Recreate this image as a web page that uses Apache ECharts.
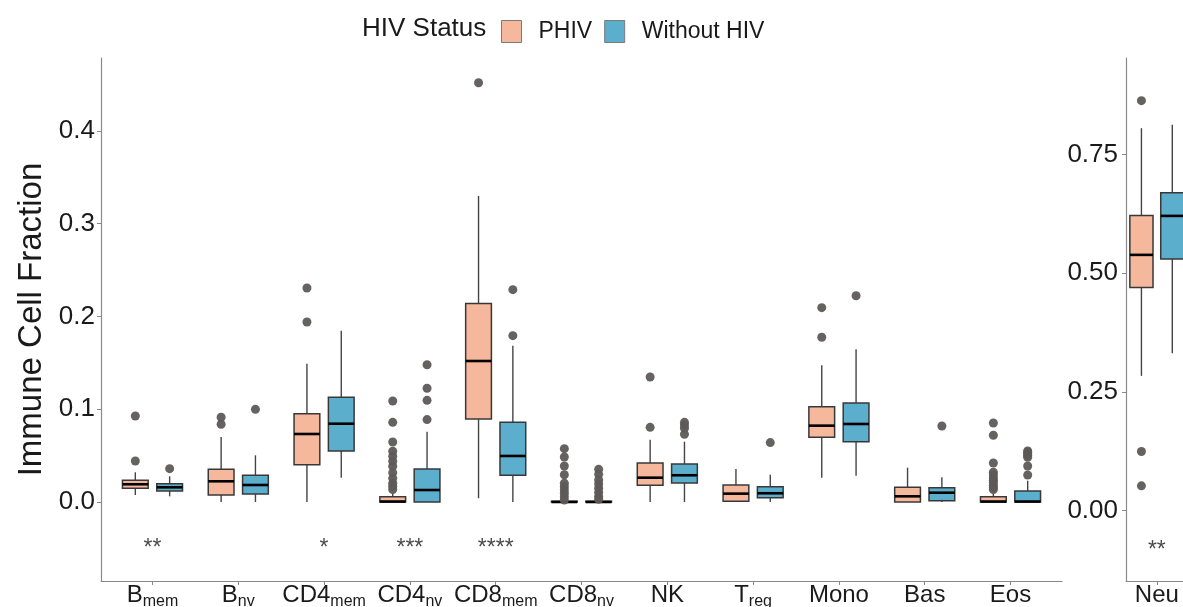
<!DOCTYPE html>
<html><head><meta charset="utf-8">
<script src="https://cdn.jsdelivr.net/npm/echarts@6/dist/echarts.min.js"></script>
<style>html,body{margin:0;padding:0;background:#fff}#c{width:1183px;height:607px}</style>
</head><body><div id="c"></div>
<script>
// ---------- data ----------
const categories = ['Bmem','Bnv','CD4mem','CD4nv','CD8mem','CD8nv','NK','Treg','Mono','Bas','Eos'];
const labelMain = ['B','B','CD4','CD4','CD8','CD8','NK','T','Mono','Bas','Eos'];
const labelSub  = ['mem','nv','mem','nv','mem','nv','','reg','','',''];
// [min, q1, median, q3, max]
const phivBox = [
  [0.0075,0.0148,0.0191,0.0234,0.032],
  [0.0,0.0075,0.0223,0.0352,0.070],
  [0.0,0.0402,0.0733,0.0952,0.149],
  [0.0,0.0,0.0005,0.0057,0.0094],
  [0.004,0.0895,0.152,0.2140,0.330],
  [0.0,0.0,0.0,0.0008,0.0015],
  [0.0,0.018,0.0262,0.042,0.0672],
  [0.0,0.0008,0.009,0.0183,0.0356],
  [0.0262,0.0698,0.0823,0.1028,0.1474],
  [0.0,0.0,0.0061,0.0158,0.037],
  [0.0,0.0,0.0005,0.0057,0.010]
];
const withoutBox = [
  [0.0061,0.0119,0.0158,0.0197,0.0277],
  [0.0,0.0086,0.0183,0.0288,0.0503],
  [0.0262,0.055,0.0844,0.1129,0.1847],
  [0.0,0.0,0.0129,0.0356,0.0758],
  [0.0,0.0288,0.0496,0.0859,0.1685],
  [0.0,0.0,0.0,0.0008,0.0015],
  [0.0,0.0205,0.0288,0.041,0.065],
  [0.0,0.0046,0.0094,0.0165,0.0294],
  [0.0284,0.065,0.0841,0.1067,0.1646],
  [0.0,0.0014,0.010,0.0154,0.0266],
  [0.0,0.0,0.0005,0.0119,0.023]
];
const phivOut = [
  [0.0927,0.0442],
  [0.0913,0.0838],
  [0.2307,0.194],
  [0.1089,0.0859,0.0647,0.0547,0.0493,0.0439,0.0385,0.0316,0.0256,0.0202,0.017,0.0135],
  [0.452],
  [0.0575,0.0485,0.0388,0.0294,0.0202,0.0165,0.013,0.0094,0.0057,0.002],
  [0.1348,0.0805],
  [],
  [0.2095,0.1776],
  [],
  [0.0852,0.0719,0.042,0.032,0.029,0.026,0.0235,0.021,0.018,0.0155,0.0135]
];
const withoutOut = [
  [0.0359],
  [0.0999],
  [],
  [0.148,0.1226,0.1096,0.0888],
  [0.2289,0.1793],
  [0.0352,0.0298,0.0237,0.0194,0.0148,0.0104,0.0061,0.0029],
  [0.0859,0.083,0.0795,0.073],
  [0.064],
  [0.2224],
  [0.0819],
  [0.055,0.0535,0.0518,0.050,0.0482,0.0388,0.0291]
];
const sigLabels = ['**','','*','***','****','','','','','',''];

const neuCategory = 'Neu';
const neuPhivBox = [0.2836,0.470,0.5388,0.6217,0.806];
const neuWithoutBox = [0.3315,0.530,0.621,0.670,0.813];
const neuPhivOut = [0.864,0.124,0.0517];
const neuWithoutOut = [];
const neuSig = '**';

const leftTicks = [0,0.1,0.2,0.3,0.4];
const rightTicks = [0,0.25,0.5,0.75];
const groupNames = ['PHIV','Without HIV'];

// ---------- styling ----------
const PINK = '#F6B89C', BLUE = '#5BAFCD';
const FONT = 'Liberation Sans, Arial, sans-serif';
const DODGE = 0.2, HALFW = 0.15;
const AXIS_COLOR = '#8a8a8a', TEXT = '#1a1a1a';
const SIG_Y_LEFT = -0.050, SIG_Y_RIGHT = -0.085;

function boxRender(offset, fill) {
  return function (params, api) {
    const x = api.value(0) + offset;
    const lo = api.coord([x, api.value(1)]);
    const q1 = api.coord([x, api.value(2)]);
    const md = api.coord([x, api.value(3)]);
    const q3 = api.coord([x, api.value(4)]);
    const hi = api.coord([x, api.value(5)]);
    const w = api.size([HALFW * 2, 0])[0];
    const ws = {stroke: '#444', lineWidth: 1.4};
    return {type: 'group', children: [
      {type: 'line', shape: {x1: lo[0], y1: lo[1], x2: q1[0], y2: q1[1]}, style: ws},
      {type: 'line', shape: {x1: q3[0], y1: q3[1], x2: hi[0], y2: hi[1]}, style: ws},
      {type: 'rect', shape: {x: q3[0] - w / 2, y: q3[1], width: w, height: Math.max(q1[1] - q3[1], 0.5)},
        style: {fill: fill, stroke: '#383838', lineWidth: 1.5}},
      {type: 'line', shape: {x1: md[0] - w / 2, y1: md[1], x2: md[0] + w / 2, y2: md[1]},
        style: {stroke: '#000', lineWidth: 2.6}}
    ]};
  };
}
function boxData(arr) { return arr.map((b, i) => [i].concat(b)); }
function outData(arr, off) {
  const d = [];
  arr.forEach((vals, i) => vals.forEach(v => d.push([i + off, v])));
  return d;
}

const chart = echarts.init(document.getElementById('c'), null, {renderer: 'canvas'});

const xLabelRich = {
  m: {fontSize: 24, fontFamily: FONT, color: TEXT, verticalAlign: 'bottom', padding: [0, 0, 3, 0]},
  s: {fontSize: 16, fontFamily: FONT, color: TEXT, verticalAlign: 'bottom', lineHeight: 16}
};
const axisLineStyle = {show: true, onZero: false, lineStyle: {color: AXIS_COLOR, width: 1.2}};
const tickStyle = {length: 4, lineStyle: {color: AXIS_COLOR}};

const option = {
  backgroundColor: '#fff',
  animation: false,
  title: {text: 'HIV Status', left: 357, top: 11,
    textStyle: {fontSize: 26, fontWeight: 'normal', color: TEXT, fontFamily: FONT}},
  legend: {
    left: 496, top: 15, itemWidth: 20, itemHeight: 22, itemGap: 12,
    textStyle: {fontSize: 23, color: TEXT, fontFamily: FONT, padding: [0, 0, 0, 12]},
    data: [
      {name: groupNames[0], icon: 'rect', itemStyle: {color: PINK, borderColor: '#7a7a7a', borderWidth: 1}},
      {name: groupNames[1], icon: 'rect', itemStyle: {color: BLUE, borderColor: '#7a7a7a', borderWidth: 1}}
    ],
    selectedMode: false
  },
  grid: [
    {left: 101, top: 58, right: 121, bottom: 26, containLabel: false, outerBoundsMode: 'none'},
    {left: 1126, top: 58, width: 92.6, bottom: 26, containLabel: false, outerBoundsMode: 'none'}
  ],
  xAxis: [
    {type: 'value', gridIndex: 0, min: -0.6, max: 10.6, splitLine: {show: false},
      axisLine: axisLineStyle,
      axisTick: Object.assign({show: true, customValues: categories.map((c, i) => i)}, tickStyle),
      axisLabel: {customValues: categories.map((c, i) => i), margin: 2, rich: xLabelRich,
        formatter: v => { const i = Math.round(v); return '{m|' + labelMain[i] + '}' + (labelSub[i] ? '{s|' + labelSub[i] + '}' : ''); }}
    },
    {type: 'value', gridIndex: 1, min: -0.4, max: 0.8, splitLine: {show: false},
      axisLine: axisLineStyle,
      axisTick: Object.assign({show: true, customValues: [0]}, tickStyle),
      axisLabel: {customValues: [0], margin: 2, rich: xLabelRich, formatter: () => '{m|' + neuCategory + '}'}
    }
  ],
  yAxis: [
    {type: 'value', gridIndex: 0, min: -0.0852, max: 0.4787, splitLine: {show: false},
      name: 'Immune Cell Fraction', nameLocation: 'middle', nameGap: 50,
      nameTextStyle: {fontSize: 33, color: TEXT, fontFamily: FONT},
      axisLine: axisLineStyle,
      axisTick: Object.assign({show: true, customValues: leftTicks}, tickStyle),
      axisLabel: {customValues: leftTicks, fontSize: 26, color: TEXT, fontFamily: FONT, margin: 6,
        formatter: v => v.toFixed(1)}
    },
    {type: 'value', gridIndex: 1, min: -0.149, max: 0.954, splitLine: {show: false},
      axisLine: axisLineStyle,
      axisTick: Object.assign({show: true, customValues: rightTicks}, tickStyle),
      axisLabel: {customValues: rightTicks, fontSize: 26, color: TEXT, fontFamily: FONT, margin: 8,
        formatter: v => v.toFixed(2)}
    }
  ],
  series: [
    {type: 'custom', name: groupNames[0], xAxisIndex: 0, yAxisIndex: 0, itemStyle: {color: PINK},
      renderItem: boxRender(-DODGE, PINK), encode: {x: 0, y: [1, 2, 3, 4, 5]}, data: boxData(phivBox), clip: false, z: 2},
    {type: 'custom', name: groupNames[1], xAxisIndex: 0, yAxisIndex: 0, itemStyle: {color: BLUE},
      renderItem: boxRender(DODGE, BLUE), encode: {x: 0, y: [1, 2, 3, 4, 5]}, data: boxData(withoutBox), clip: false, z: 2},
    {type: 'custom', name: groupNames[0], xAxisIndex: 1, yAxisIndex: 1, itemStyle: {color: PINK},
      renderItem: boxRender(-DODGE, PINK), encode: {x: 0, y: [1, 2, 3, 4, 5]}, data: boxData([neuPhivBox]), clip: false, z: 2},
    {type: 'custom', name: groupNames[1], xAxisIndex: 1, yAxisIndex: 1, itemStyle: {color: BLUE},
      renderItem: boxRender(DODGE, BLUE), encode: {x: 0, y: [1, 2, 3, 4, 5]}, data: boxData([neuWithoutBox]), clip: false, z: 2},
    {type: 'scatter', name: 'out1', xAxisIndex: 0, yAxisIndex: 0, symbolSize: 9, itemStyle: {color: '#5e5a5a', opacity: 0.95},
      data: outData(phivOut, -DODGE), z: 3},
    {type: 'scatter', name: 'out2', xAxisIndex: 0, yAxisIndex: 0, symbolSize: 9, itemStyle: {color: '#5e5a5a', opacity: 0.95},
      data: outData(withoutOut, DODGE), z: 3},
    {type: 'scatter', name: 'out3', xAxisIndex: 1, yAxisIndex: 1, symbolSize: 9, itemStyle: {color: '#5e5a5a', opacity: 0.95},
      data: outData([neuPhivOut], -DODGE).concat(outData([neuWithoutOut], DODGE)), z: 3},
    {type: 'scatter', name: 'sig1', xAxisIndex: 0, yAxisIndex: 0, symbolSize: 0, silent: true,
      label: {show: true, position: 'inside', formatter: p => p.data[2], fontSize: 23, color: TEXT, fontFamily: FONT},
      data: sigLabels.map((s, i) => [i, SIG_Y_LEFT, s]).filter(d => d[2])},
    {type: 'scatter', name: 'sig2', xAxisIndex: 1, yAxisIndex: 1, symbolSize: 0, silent: true,
      label: {show: true, position: 'inside', formatter: p => p.data[2], fontSize: 23, color: TEXT, fontFamily: FONT},
      data: [[0, SIG_Y_RIGHT, neuSig]]}
  ]
};
chart.setOption(option);
</script></body></html>
